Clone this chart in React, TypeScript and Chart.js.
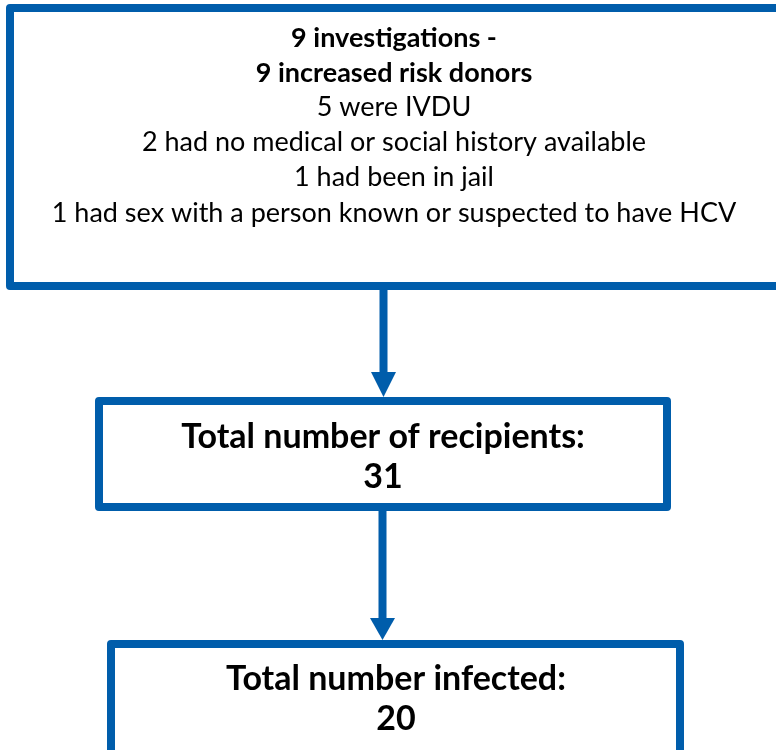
import React, { useEffect, useRef } from "react";
import { Chart, registerables } from "chart.js";

Chart.register(...registerables);

// ---- content ----
const topTitle = ["9 investigations -", "9 increased risk donors"];
const topDetails = [
  "5 were IVDU",
  "2 had no medical or social history available",
  "1 had been in jail",
  "1 had sex with a person known or suspected to have HCV",
];
const midTitle = "Total number of recipients:";
const midValue = 31;
const botTitle = "Total number infected:";
const botValue = 20;

// ---- styles / layout (data-space units, mapped through the scales) ----
const BLUE = "#005dab";
const FONT = "Lato, 'Open Sans', sans-serif";

const boxes = [
  { x0: 10, y0: 8, x1: 784, y1: 286 },
  { x0: 99, y0: 401, x1: 667, y1: 507 },
  { x0: 111, y0: 644, x1: 680, y1: 764 },
];
const arrows = [
  { x: 383.5, y0: 290, yHead: 372, yTip: 397 },
  { x: 382.5, y0: 511, yHead: 618, yTip: 640 },
];

const flowPlugin = {
  id: "flow",
  afterDraw(chart: any) {
    const ctx = chart.ctx as CanvasRenderingContext2D;
    const xs = chart.scales.x;
    const ys = chart.scales.y;
    const X = (v: number) => xs.getPixelForValue(v);
    const Y = (v: number) => ys.getPixelForValue(v);
    ctx.save();
    ctx.fillStyle = "#ffffff";
    ctx.fillRect(0, 0, chart.width, chart.height);

    // boxes
    ctx.strokeStyle = BLUE;
    ctx.lineWidth = 8;
    ctx.lineJoin = "round";
    boxes.forEach((b) => {
      ctx.beginPath();
      ctx.rect(X(b.x0), Y(b.y0), X(b.x1) - X(b.x0), Y(b.y1) - Y(b.y0));
      ctx.stroke();
    });

    // arrows
    ctx.fillStyle = BLUE;
    arrows.forEach((a) => {
      ctx.fillRect(X(a.x) - 4, Y(a.y0), 8, Y(a.yHead) - Y(a.y0) + 1);
      ctx.beginPath();
      ctx.moveTo(X(a.x) - 12.5, Y(a.yHead));
      ctx.lineTo(X(a.x) + 12.5, Y(a.yHead));
      ctx.lineTo(X(a.x), Y(a.yTip));
      ctx.closePath();
      ctx.fill();
    });

    // text
    ctx.fillStyle = "#000000";
    ctx.textAlign = "center";
    ctx.textBaseline = "middle";
    const cxTop = 394;
    ctx.font = `bold 27px ${FONT}`;
    ctx.fillText(topTitle[0], X(cxTop), Y(38));
    ctx.fillText(topTitle[1], X(cxTop), Y(73));
    ctx.font = `27px ${FONT}`;
    topDetails.forEach((t, i) => ctx.fillText(t, X(cxTop), Y(107 + i * 35.3)));

    ctx.font = `bold 34px ${FONT}`;
    ctx.fillText(midTitle, X(383), Y(437));
    ctx.fillText(String(midValue), X(383), Y(477));
    ctx.fillText(botTitle, X(396), Y(679));
    ctx.fillText(String(botValue), X(396), Y(719));
    ctx.restore();
  },
};

export default function App() {
  const ref = useRef<HTMLCanvasElement | null>(null);
  useEffect(() => {
    if (!ref.current) return;
    const chart = new Chart(ref.current, {
      type: "scatter",
      data: { datasets: [{ data: [], pointRadius: 0 }] },
      options: {
        responsive: false,
        animation: false,
        layout: { padding: 0 },
        plugins: { legend: { display: false }, tooltip: { enabled: false } },
        scales: {
          x: { type: "linear", min: 0, max: 776, display: false },
          y: { type: "linear", min: 0, max: 750, reverse: true, display: false },
        },
      },
      plugins: [flowPlugin],
    });
    return () => chart.destroy();
  }, []);
  return (
    <div style={{ position: "absolute", left: 0, top: 0, width: 776, height: 750, background: "#fff" }}>
      <canvas ref={ref} width={776} height={750} />
    </div>
  );
}
